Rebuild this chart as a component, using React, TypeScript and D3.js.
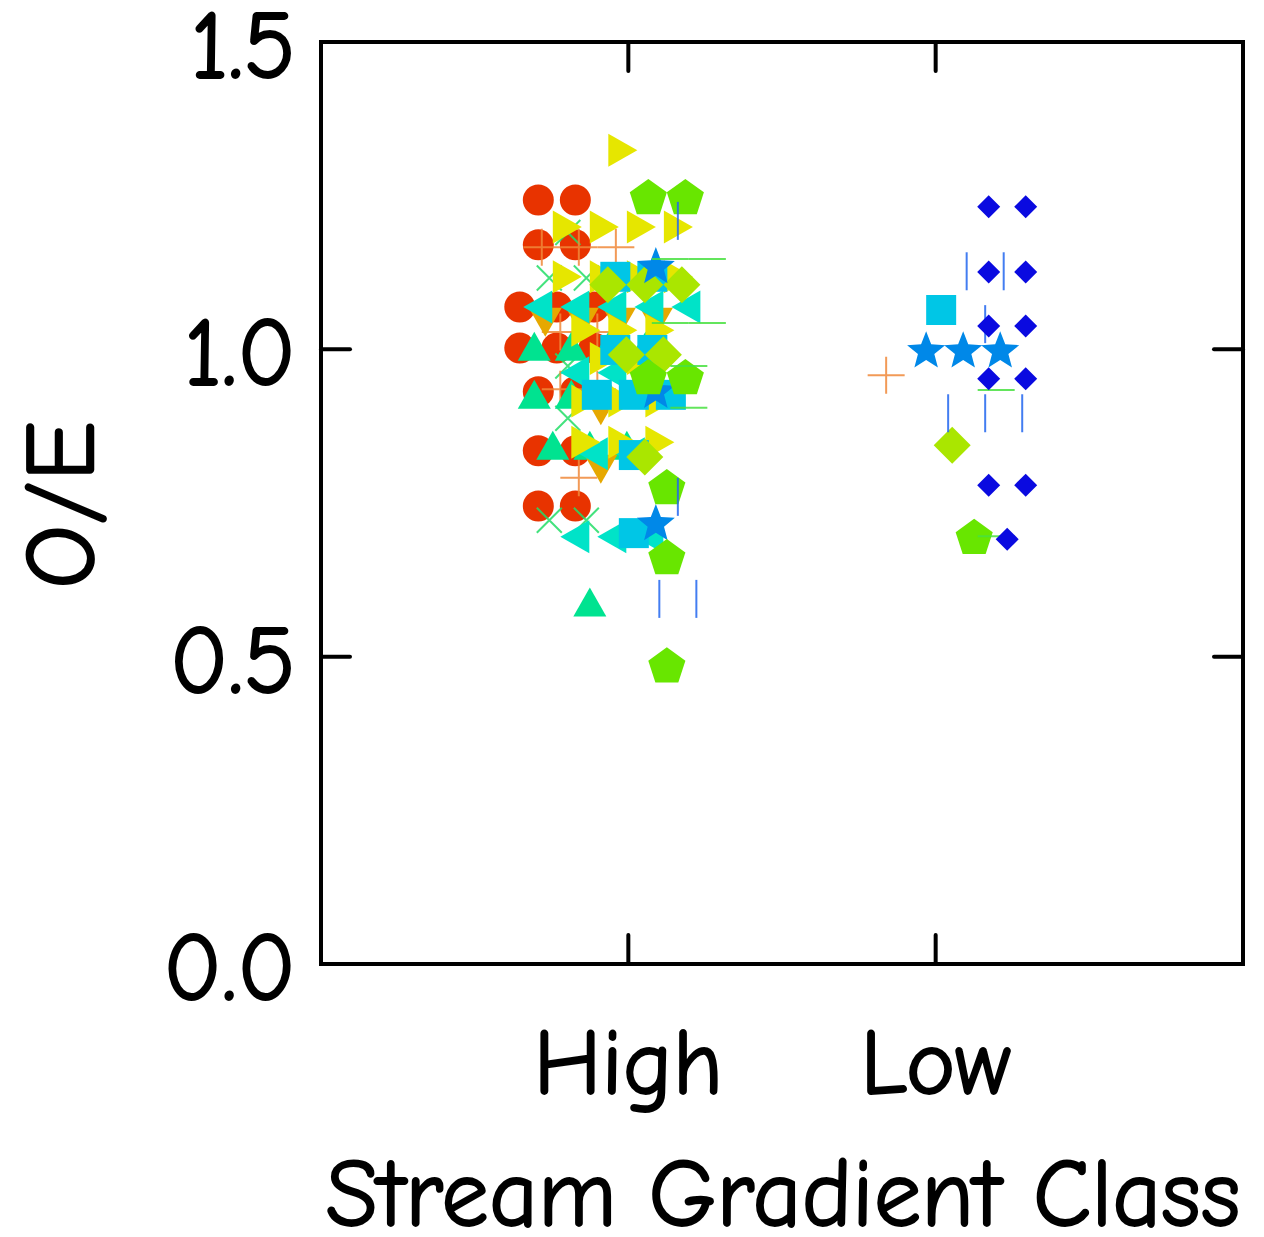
import React from 'react';
import * as d3 from 'd3';

// ---------- data ----------
const categories = ['High', 'Low'];
const yTickValues = [0, 0.5, 1.0, 1.5];
const xAxisTitle = 'Stream Gradient Class';
const yAxisTitle = 'O/E';

// values per series (duplicates = points sharing a value, spread side by side)
const circleHigh = [1.243, 1.243, 1.17, 1.17, 1.069, 1.069, 1.069, 1.002, 1.002, 1.002, 0.931, 0.931, 0.835, 0.835, 0.745, 0.745];
const circleLow: number[] = [];
const crossHigh = [1.19, 1.116, 1.116, 0.973, 0.888, 0.722, 0.722];
const crossLow: number[] = [];
const plusHigh = [1.166, 1.166, 1.166, 1.028, 1.028, 0.935, 0.935, 0.791];
const plusLow = [0.958];
const triUpHigh = [1.005, 1.005, 1.005, 1.005, 0.927, 0.927, 0.927, 0.927, 0.844, 0.844, 0.844, 0.589];
const triUpLow: number[] = [];
const triDownHigh = [1.044, 1.044, 1.044, 1.044, 0.9, 0.805];
const triDownLow: number[] = [];
const triLeftHigh = [1.069, 1.069, 1.069, 1.069, 1.069, 0.962, 0.962, 0.962, 0.83, 0.83, 0.695, 0.695, 0.695];
const triLeftLow: number[] = [];
const triRightHigh = [1.324, 1.199, 1.199, 1.199, 1.199, 1.118, 1.118, 1.118, 1.118, 1.031, 1.031, 1.031, 0.985, 0.985, 0.916, 0.916, 0.916, 0.849, 0.849, 0.849];
const triRightLow: number[] = [];
const squareHigh = [1.118, 1.118, 0.999, 0.999, 0.926, 0.926, 0.926, 0.828, 0.701];
const squareLow = [1.064];
const diamondHigh = [1.105, 1.105, 1.105, 0.991, 0.991, 0.825];
const diamondLow = [0.844];
const starHigh = [1.137, 0.934, 0.719];
const starLow = [1.0, 1.0, 1.0];
const pentagonHigh = [1.248, 1.248, 0.955, 0.955, 0.776, 0.662, 0.486];
const pentagonLow = [0.695];
const vbarHigh = [1.209, 0.76, 0.594, 0.594];
const vbarLow = [1.127, 1.127, 1.041, 0.896, 0.896, 0.896];
const hbarHigh = [1.147, 1.147, 1.043, 1.043, 0.973, 0.905];
const hbarLow = [0.934, 0.696];
const smallDiamondHigh: number[] = [];
const smallDiamondLow = [1.232, 1.232, 1.126, 1.126, 1.038, 1.038, 0.952, 0.952, 0.779, 0.779, 0.691];

type Shape =
  | 'circle' | 'cross' | 'plus' | 'triUp' | 'triDown' | 'triLeft' | 'triRight'
  | 'square' | 'diamond' | 'star' | 'pentagon' | 'vbar' | 'hbar' | 'smallDiamond';

const series: { shape: Shape; color: string; values: number[][] }[] = [
  { shape: 'circle', color: '#E83300', values: [circleHigh, circleLow] },
  { shape: 'cross', color: '#22DD66', values: [crossHigh, crossLow] },
  { shape: 'plus', color: '#F0883A', values: [plusHigh, plusLow] },
  { shape: 'triUp', color: '#00E390', values: [triUpHigh, triUpLow] },
  { shape: 'triDown', color: '#E6A800', values: [triDownHigh, triDownLow] },
  { shape: 'triLeft', color: '#00E3C8', values: [triLeftHigh, triLeftLow] },
  { shape: 'triRight', color: '#E6E600', values: [triRightHigh, triRightLow] },
  { shape: 'square', color: '#00C6E6', values: [squareHigh, squareLow] },
  { shape: 'diamond', color: '#AAE600', values: [diamondHigh, diamondLow] },
  { shape: 'star', color: '#0088E8', values: [starHigh, starLow] },
  { shape: 'pentagon', color: '#68E600', values: [pentagonHigh, pentagonLow] },
  { shape: 'vbar', color: '#2266EE', values: [vbarHigh, vbarLow] },
  { shape: 'hbar', color: '#48E040', values: [hbarHigh, hbarLow] },
  { shape: 'smallDiamond', color: '#0A0AE0', values: [smallDiamondHigh, smallDiamondLow] },
];

// ---------- layout ----------
const W = 1264;
const H = 1237;
const M = { left: 321, right: 1243, top: 42, bottom: 964 };
const SERIES_STEP = 0.0358; // x-units between series within a category
const SPREAD = 0.1205; // x-units between coincident points
const FONT = "'Comic Sans MS', 'Comic Neue', 'Open Sans', sans-serif";
const TEXT_STROKE = 1.8;

function poly(pts: [number, number][]) {
  return 'M' + pts.map((p) => p[0].toFixed(2) + ',' + p[1].toFixed(2)).join('L') + 'Z';
}

function shapePath(shape: Shape): string {
  switch (shape) {
    case 'circle':
      return 'M15.5,0A15.5,15.5 0 1 1 -15.5,0A15.5,15.5 0 1 1 15.5,0Z';
    case 'square':
      return poly([[-15, -15], [15, -15], [15, 15], [-15, 15]]);
    case 'diamond':
      return poly([[0, -18.5], [18.5, 0], [0, 18.5], [-18.5, 0]]);
    case 'smallDiamond':
      return poly([[0, -11.5], [11.5, 0], [0, 11.5], [-11.5, 0]]);
    case 'triUp':
      return poly([[0, -14.5], [16.5, 14.5], [-16.5, 14.5]]);
    case 'triDown':
      return poly([[0, 14.5], [16.5, -14.5], [-16.5, -14.5]]);
    case 'triRight':
      return poly([[14.5, 0], [-14.5, -16.5], [-14.5, 16.5]]);
    case 'triLeft':
      return poly([[-14.5, 0], [14.5, -16.5], [14.5, 16.5]]);
    case 'pentagon': {
      const R = 19.5;
      const pts: [number, number][] = d3.range(5).map((k) => {
        const a = -Math.PI / 2 + (k * 2 * Math.PI) / 5;
        return [R * Math.cos(a), R * Math.sin(a) + 1.5];
      });
      return poly(pts);
    }
    case 'star': {
      const R = 20;
      const r = 8.6;
      const pts: [number, number][] = d3.range(10).map((k) => {
        const a = -Math.PI / 2 + (k * Math.PI) / 5;
        const rr = k % 2 === 0 ? R : r;
        return [rr * Math.cos(a), rr * Math.sin(a) + 2];
      });
      return poly(pts);
    }
    case 'cross':
      return 'M-12.5,-12.5L12.5,12.5M-12.5,12.5L12.5,-12.5';
    case 'plus':
      return 'M-18.5,0L18.5,0M0,-18.5L0,18.5';
    case 'vbar':
      return 'M0,-19L0,19';
    case 'hbar':
      return 'M-18.5,0L18.5,0';
  }
}

const lineShapes = new Set<Shape>(['cross', 'plus', 'vbar', 'hbar']);

export default function App() {
  const x = d3.scaleLinear().domain([0, 3]).range([M.left, M.right]);
  const y = d3.scaleLinear().domain([0, 1.5]).range([M.bottom, M.top]);
  const nSeries = series.length;

  const marks: React.ReactElement[] = [];
  series.forEach((s, si) => {
    const d = shapePath(s.shape);
    const isLine = lineShapes.has(s.shape);
    s.values.forEach((vals, ci) => {
      const groups = d3.groups(vals, (v) => v);
      groups.forEach(([v, arr]) => {
        const n = arr.length;
        arr.forEach((_, k) => {
          const xv = ci + 1 + (si - (nSeries - 1) / 2) * SERIES_STEP + (k - (n - 1) / 2) * SPREAD;
          marks.push(
            <path
              key={`${si}-${ci}-${v}-${k}`}
              d={d}
              transform={`translate(${x(xv)},${y(v)})`}
              fill={isLine ? 'none' : s.color}
              stroke={isLine ? s.color : 'none'}
              strokeWidth={isLine ? 2 : 0}
              strokeOpacity={isLine ? 0.85 : 1}
            />
          );
        });
      });
    });
  });

  const tickLen = 29;
  const textProps = { fill: '#000', stroke: '#000', strokeWidth: TEXT_STROKE, strokeLinejoin: 'round' as const };

  return (
    <svg
      width={W}
      height={H}
      style={{ position: 'absolute', left: 0, top: 0, background: '#fff' }}
      fontFamily={FONT}
    >
      <rect x={0} y={0} width={W} height={H} fill="#fff" />
      <g>{marks}</g>
      {/* frame */}
      <rect
        x={M.left}
        y={M.top}
        width={M.right - M.left}
        height={M.bottom - M.top}
        fill="none"
        stroke="#000"
        strokeWidth={4}
      />
      {/* y ticks */}
      {yTickValues.map((t) => (
        <g key={'yt' + t}>
          <line x1={M.left} x2={M.left + tickLen} y1={y(t)} y2={y(t)} stroke="#000" strokeWidth={4} strokeLinecap="round" />
          <line x1={M.right} x2={M.right - tickLen} y1={y(t)} y2={y(t)} stroke="#000" strokeWidth={4} strokeLinecap="round" />
          <text x={296} y={y(t)} dy="0.37em" textAnchor="end" fontSize={97} {...textProps}>
            {d3.format('.1f')(t)}
          </text>
        </g>
      ))}
      {/* x ticks */}
      {categories.map((c, i) => (
        <g key={'xt' + c}>
          <line x1={x(i + 1)} x2={x(i + 1)} y1={M.bottom} y2={M.bottom - tickLen} stroke="#000" strokeWidth={4} strokeLinecap="round" />
          <line x1={x(i + 1)} x2={x(i + 1)} y1={M.top} y2={M.top + tickLen} stroke="#000" strokeWidth={4} strokeLinecap="round" />
          <text x={x(i + 1)} y={1094} textAnchor="middle" fontSize={94} {...textProps}>
            {c}
          </text>
        </g>
      ))}
      <text
        x={783}
        y={1226}
        textAnchor="middle"
        fontSize={98}
        textLength={915}
        lengthAdjust="spacingAndGlyphs"
        {...textProps}
      >
        {xAxisTitle}
      </text>
      <text
        transform={`translate(94,${(M.top + M.bottom) / 2 + 2}) rotate(-90)`}
        textAnchor="middle"
        fontSize={100}
        {...textProps}
      >
        {yAxisTitle}
      </text>
    </svg>
  );
}
